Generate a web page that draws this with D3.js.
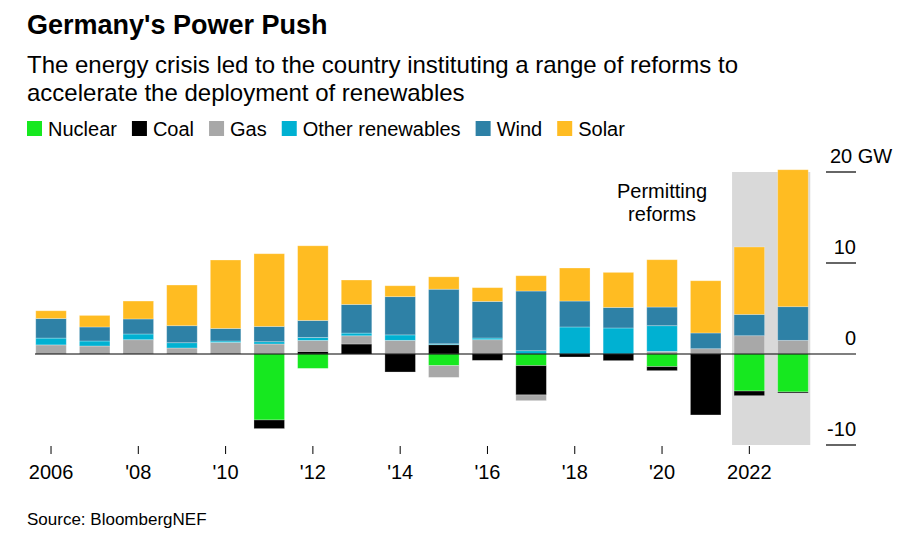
<!DOCTYPE html>
<meta charset="utf-8">
<style>
    body { margin: 0; background: #fff; font-family: Arial, "Liberation Sans", sans-serif; }
    svg text { fill: #000; }
</style>
<body>
<script src="https://cdnjs.cloudflare.com/ajax/libs/d3/7.8.5/d3.min.js"></script>
<script>

    var years = d3.range(2006, 2024);
    var seriesNames = ["Nuclear", "Coal", "Gas", "Other renewables", "Wind", "Solar"];
    var colors = ["#16e81f", "#000000", "#a8a8a8", "#00b1d2", "#2e81a6", "#ffbc22"];

    // GW net change per year
    var nuclear = [0, 0, 0, 0, 0, -7.25, -1.58, 0, 0, -1.28, 0, -1.28, 0, 0, -1.39, 0, -4.07, -4.17];
    var coal    = [0, 0, 0, 0, 0, -0.95, 0.29, 1.1, -1.98, 1.02, -0.7, -3.22, -0.33, -0.73, -0.44, -6.7, -0.51, -0.12];
    var gas     = [1.0, 0.88, 1.57, 0.66, 1.27, 1.1, 1.2, 0.9, 1.5, -1.29, 1.57, -0.63, 0, 0, 0.29, 0.58, 2.01, 1.5];
    var otherRen= [0.75, 0.55, 0.63, 0.58, 0.16, 0.25, 0.33, 0.3, 0.6, 0.1, 0.19, 0.36, 2.97, 2.86, 2.82, 0, 0, 0];
    var wind    = [2.15, 1.54, 1.65, 1.87, 1.38, 1.68, 1.87, 3.15, 4.2, 6.0, 4.02, 6.56, 2.85, 2.26, 2.05, 1.73, 2.34, 3.7];
    var solar   = [0.85, 1.27, 1.97, 4.47, 7.52, 7.99, 8.2, 2.68, 1.2, 1.36, 1.51, 1.68, 3.63, 3.85, 5.2, 5.74, 7.41, 15.05];

    var yTicks = [20, 10, 0, -10];
    var xTickYears = [2006, 2008, 2010, 2012, 2014, 2016, 2018, 2020, 2022];

    var all = [nuclear, coal, gas, otherRen, wind, solar];
    // positives stack from zero upward: coal, gas, other, wind, solar
    var posOrder = [1, 2, 3, 4, 5];
    // negatives stack downward: nuclear, coal, gas
    var negOrder = [0, 1, 2];

    var svg = d3.select("body").append("svg").attr("width", 912).attr("height", 545);

    var x = d3.scaleBand().domain(years).range([29.2, 814.8]).paddingInner(0.3).paddingOuter(0.15);
    var y = d3.scaleLinear().domain([-10, 20]).range([445, 172]);

    // titles
    svg.append("text").attr("x", 27).attr("y", 34).attr("font-size", 27).attr("font-weight", "bold").text("Germany's Power Push");
    svg.append("text").attr("x", 27).attr("y", 73).attr("font-size", 24).text("The energy crisis led to the country instituting a range of reforms to");
    svg.append("text").attr("x", 27).attr("y", 101).attr("font-size", 24).text("accelerate the deployment of renewables");

    // legend
    var lx = 27;
    seriesNames.forEach(function(n, i) {
        svg.append("rect").attr("x", lx).attr("y", 121).attr("width", 15).attr("height", 15).attr("fill", colors[i]);
        var t = svg.append("text").attr("x", lx + 21).attr("y", 136).attr("font-size", 20).text(n);
        lx += 21 + t.node().getComputedTextLength() + 15;
    });

    // shaded region for 2022-2023
    svg.append("rect")
        .attr("x", x(2022) - 2).attr("y", y(20))
        .attr("width", x(2023) + x.bandwidth() - x(2022) + 4)
        .attr("height", y(-10) - y(20))
        .attr("fill", "#d9d9d9");

    svg.append("text").attr("x", 662).attr("y", 198).attr("font-size", 20).attr("text-anchor", "middle").text("Permitting");
    svg.append("text").attr("x", 662).attr("y", 221).attr("font-size", 20).attr("text-anchor", "middle").text("reforms");

    // bars
    years.forEach(function(yr, i) {
        var up = 0, down = 0;
        posOrder.forEach(function(s) {
            var v = all[s][i];
            if (v > 0) {
                svg.append("rect").attr("x", x(yr)).attr("width", x.bandwidth())
                    .attr("y", y(up + v)).attr("height", y(up) - y(up + v))
                    .attr("fill", colors[s]).attr("stroke", "rgba(255,255,255,0.35)").attr("stroke-width", 0.8);
                up += v;
            }
        });
        negOrder.forEach(function(s) {
            var v = all[s][i];
            if (v < 0) {
                svg.append("rect").attr("x", x(yr)).attr("width", x.bandwidth())
                    .attr("y", y(down)).attr("height", y(down + v) - y(down))
                    .attr("fill", colors[s]).attr("stroke", "rgba(255,255,255,0.35)").attr("stroke-width", 0.8);
                down += v;
            }
        });
    });

    // zero line
    svg.append("line").attr("x1", 35).attr("x2", 856).attr("y1", y(0)).attr("y2", y(0)).attr("stroke", "#000").attr("stroke-width", 1.2);

    // right axis
    yTicks.forEach(function(t) {
        if (t !== 0) {
            svg.append("line").attr("x1", 826).attr("x2", 856).attr("y1", y(t)).attr("y2", y(t)).attr("stroke", "#000").attr("stroke-width", 1.2);
        }
        svg.append("text").attr("x", t === 20 ? 830 : 856).attr("y", y(t) - 9).attr("font-size", 20)
            .attr("text-anchor", t === 20 ? "start" : "end").text(t === 20 ? "20 GW" : t);
    });

    // x axis ticks
    xTickYears.forEach(function(yr) {
        var cx = x(yr) + x.bandwidth() / 2;
        svg.append("line").attr("x1", cx).attr("x2", cx).attr("y1", 446).attr("y2", 454).attr("stroke", "#000");
        svg.append("text").attr("x", cx).attr("y", 479).attr("font-size", 20).attr("text-anchor", "middle")
            .text(yr === 2006 || yr === 2022 ? yr : "'" + String(yr).slice(2));
    });

    svg.append("text").attr("x", 27).attr("y", 525).attr("font-size", 17).attr("fill", "#333").text("Source: BloombergNEF");

</script>
